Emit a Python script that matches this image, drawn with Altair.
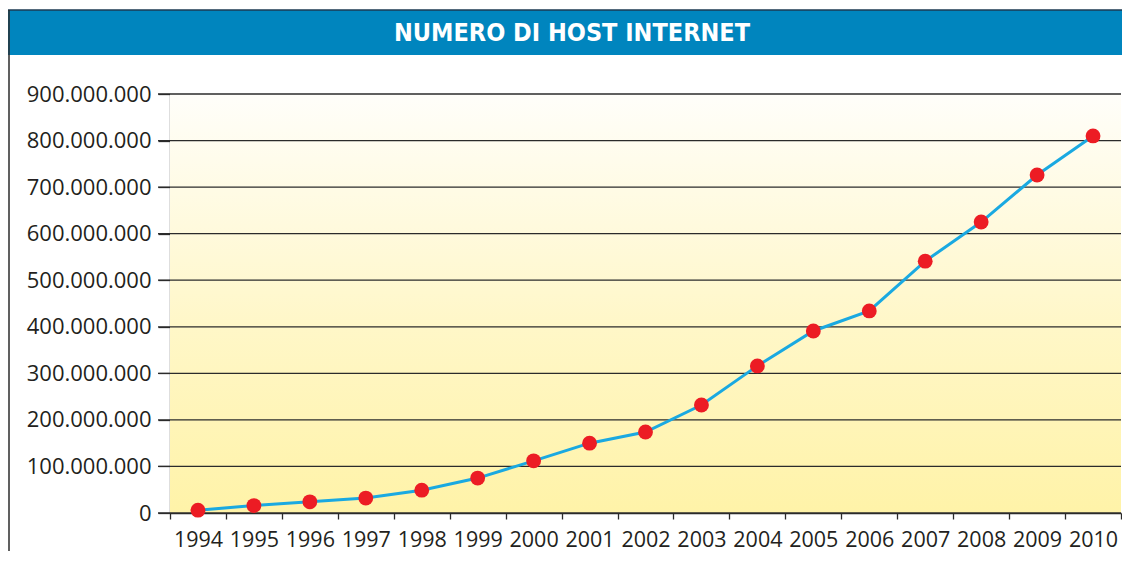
import altair as alt
import pandas as pd

years = [str(y) for y in range(1994, 2011)]
hosts = [6_000_000, 16_000_000, 24_000_000, 32_000_000, 49_000_000, 75_000_000,
         112_000_000, 150_000_000, 174_000_000, 232_000_000, 316_000_000,
         391_000_000, 434_000_000, 541_000_000, 625_000_000, 726_000_000, 810_000_000]
y_ticks = [0, 100_000_000, 200_000_000, 300_000_000, 400_000_000, 500_000_000,
           600_000_000, 700_000_000, 800_000_000, 900_000_000]
title_text = "NUMERO DI HOST INTERNET"

W, H = 951, 419

df = pd.DataFrame({"Anno": years, "Host": hosts})
ticks_df = pd.DataFrame({"Host": y_ticks})
one = alt.Data(values=[{}])

label_color = "#231f20"
font = "Open Sans"

yscale = alt.Scale(domain=[0, 900_000_000], nice=False)
yaxis = alt.Axis(values=y_ticks, grid=False, tickSize=12,
                 tickColor="#2b2b2b", tickWidth=1.3,
                 domainColor="#2b2b2b", domainWidth=1.3,
                 labelFont=font, labelFontSize=22, labelColor=label_color,
                 labelPadding=7,
                 labelExpr="replace(format(datum.value, ',d'), regexp(',', 'g'), '.')")
yenc = alt.Y("Host:Q", scale=yscale, title=None, axis=yaxis)

background = alt.Chart(one).mark_rect(
    fill=alt.Gradient(
        gradient="linear",
        stops=[alt.GradientStop(color="#fffefa", offset=0),
               alt.GradientStop(color="#fff7c8", offset=0.55),
               alt.GradientStop(color="#fff3a8", offset=1)],
        x1=0, x2=0, y1=0, y2=1),
).encode(x=alt.value(0), x2=alt.value(W), y=alt.value(0), y2=alt.value(H))

grid = alt.Chart(ticks_df).mark_rule(color="#2b2b2b", strokeWidth=1.3).encode(
    y=yenc,
    x=alt.value(-12), x2=alt.value(W),
)

xenc = alt.X("Anno:O", sort=years, title=None,
             scale=alt.Scale(paddingInner=0, paddingOuter=0),
             axis=alt.Axis(labelAngle=0, tickBand="extent", tickSize=6,
                           tickColor="#2b2b2b", tickWidth=1.3,
                           domainColor="#2b2b2b", domainWidth=1.3,
                           labelFont=font, labelFontSize=21.5, labelColor=label_color,
                           labelPadding=10, grid=False))

line = alt.Chart(df).mark_line(color="#1aa9e1", strokeWidth=3).encode(x=xenc, y=yenc)
points = alt.Chart(df).mark_circle(color="#ec1c24", opacity=1, size=220).encode(x=xenc, y=yenc)

bar = alt.Chart(one).mark_rect(fill="#0085be").encode(
    x=alt.value(-162), x2=alt.value(W + 1), y=alt.value(-84), y2=alt.value(-39))
top_border = alt.Chart(one).mark_rule(color="#1d3a52", strokeWidth=1.5).encode(
    x=alt.value(-162), x2=alt.value(W + 1), y=alt.value(-84))
left_border = alt.Chart(one).mark_rule(color="#2b2b2b", strokeWidth=1.5).encode(
    x=alt.value(-161), y=alt.value(-84), y2=alt.value(H + 60))
title = alt.Chart(one).mark_text(
    text=title_text,
    font="'Liberation Sans Narrow', 'DejaVu Sans Condensed', 'Roboto Condensed', 'Liberation Sans', sans-serif",
    fontWeight="bold", fontSize=25,
    color="white", align="center", baseline="middle",
).encode(x=alt.value(402), y=alt.value(-61))

chart = alt.layer(background, grid, line, points, bar, top_border, left_border, title).properties(
    width=W, height=H,
    autosize=alt.AutoSizeParams(type="none"),
    padding={"left": 162, "top": 86, "right": 1, "bottom": 38},
).configure_view(stroke=None)

chart.save("out.html", embed_options={"renderer": "svg", "actions": False})
